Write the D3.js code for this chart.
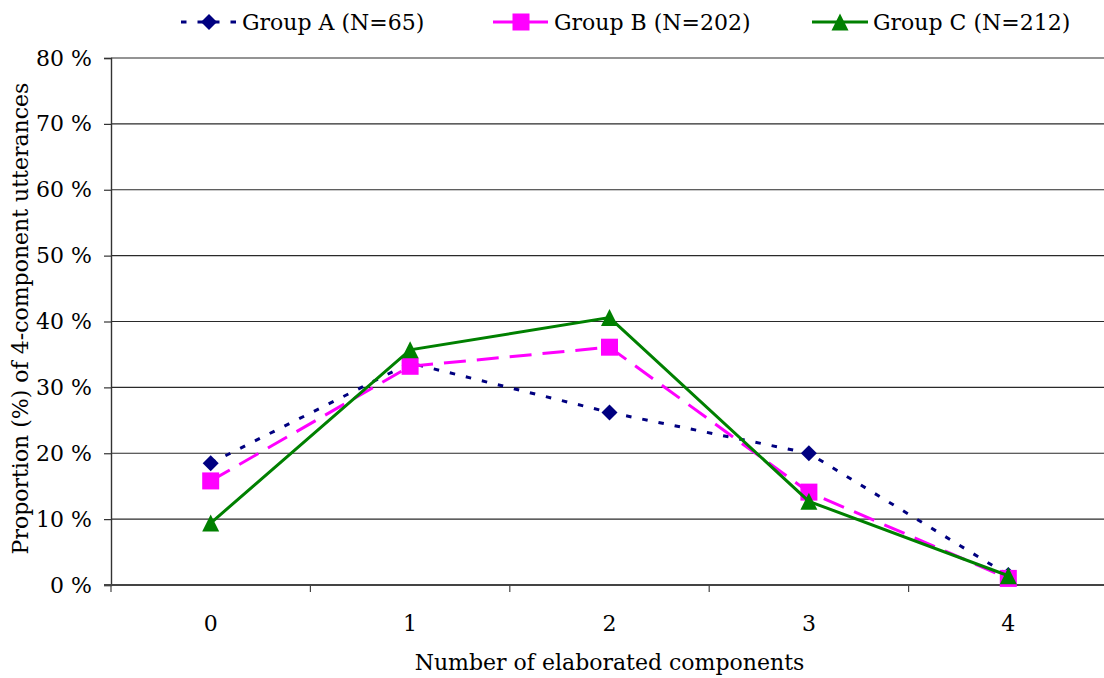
<!DOCTYPE html>
<html>
<head>
<meta charset="utf-8">
<script src="https://cdn.jsdelivr.net/npm/d3@7"></script>
<style>
  html, body { margin: 0; padding: 0; background: #fff; }
  svg text { font-family: "DejaVu Serif", "Liberation Serif", serif; fill: #000; }
</style>
</head>
<body>
<svg id="chart" width="1104" height="678"></svg>
<script>
// Number of elaborated components (x categories)
const categories = ["0", "1", "2", "3", "4"];

// Proportion (%) of 4-component utterances per group
const groupA = [18.5, 33.7, 26.2, 20.0, 1.5];
const groupB = [15.8, 33.2, 36.1, 14.1, 1.0];
const groupC = [9.4, 35.7, 40.6, 12.7, 1.4];

const seriesNames = ["Group A (N=65)", "Group B (N=202)", "Group C (N=212)"];
const yTicks = [0, 10, 20, 30, 40, 50, 60, 70, 80];

const series = [
  { name: seriesNames[0], values: groupA, color: "#000080", dash: "5.5,11", marker: "diamond" },
  { name: seriesNames[1], values: groupB, color: "#FF00FF", dash: "22,11", marker: "square" },
  { name: seriesNames[2], values: groupC, color: "#008000", dash: null, marker: "triangle" }
];

const svg = d3.select("#chart");
const fontSize = 22;

const plot = { left: 111, right: 1108, top: 58, bottom: 585 };

const x = d3.scaleBand().domain(categories).range([plot.left, plot.right]);
const y = d3.scaleLinear().domain([0, 80]).range([plot.bottom, plot.top]);
const cx = c => x(c) + x.bandwidth() / 2;

// horizontal gridlines
svg.append("g")
  .selectAll("line")
  .data(yTicks.filter(t => t > 0))
  .join("line")
  .attr("x1", plot.left).attr("x2", 1104)
  .attr("y1", d => y(d)).attr("y2", d => y(d))
  .attr("stroke", "#2a2a2a").attr("stroke-width", 1.2);

// y axis
const yAxis = svg.append("g")
  .attr("transform", `translate(${plot.left},0)`)
  .call(d3.axisLeft(y).tickValues(yTicks).tickSize(7).tickPadding(12)
    .tickFormat(d => d + " %"));
yAxis.select(".domain").attr("stroke", "#333").attr("stroke-width", 1.4);
yAxis.selectAll(".tick line").attr("stroke", "#333").attr("stroke-width", 1.2);
yAxis.selectAll("text").style("font-size", fontSize + "px")
  .style("font-family", "DejaVu Serif, serif").attr("fill", "#000");

// x axis: tick marks between categories, labels at category centres
const xAxisG = svg.append("g").attr("transform", `translate(0,${plot.bottom})`);
xAxisG.append("line")
  .attr("x1", plot.left - 7).attr("x2", 1104)
  .attr("y1", 0).attr("y2", 0)
  .attr("stroke", "#444").attr("stroke-width", 2);
xAxisG.selectAll("line.tk")
  .data(categories)
  .join("line")
  .attr("class", "tk")
  .attr("x1", d => x(d)).attr("x2", d => x(d))
  .attr("y1", 0).attr("y2", 7)
  .attr("stroke", "#444").attr("stroke-width", 1.2);
xAxisG.selectAll("text")
  .data(categories)
  .join("text")
  .attr("x", d => cx(d))
  .attr("y", 46)
  .attr("text-anchor", "middle")
  .style("font-size", fontSize + "px")
  .text(d => d);

// axis titles
svg.append("text")
  .attr("x", (plot.left + 1104) / 2 + 2)
  .attr("y", 670)
  .attr("text-anchor", "middle")
  .style("font-size", fontSize + "px")
  .text("Number of elaborated components");

svg.append("text")
  .attr("transform", `translate(28,${(plot.top + plot.bottom) / 2 - 3}) rotate(-90)`)
  .attr("text-anchor", "middle")
  .style("font-size", fontSize + "px")
  .text("Proportion (%) of 4-component utterances");

// marker shapes
function drawMarker(g, type, px, py, color) {
  if (type === "diamond") {
    g.append("path")
      .attr("d", `M${px},${py - 8}L${px + 8},${py}L${px},${py + 8}L${px - 8},${py}Z`)
      .attr("fill", color);
  } else if (type === "square") {
    g.append("rect")
      .attr("x", px - 8.5).attr("y", py - 8.5)
      .attr("width", 17).attr("height", 17)
      .attr("fill", color);
  } else {
    g.append("path")
      .attr("d", `M${px},${py - 8.5}L${px + 8.5},${py + 8.5}L${px - 8.5},${py + 8.5}Z`)
      .attr("fill", color);
  }
}

const line = d3.line().x((d, i) => cx(categories[i])).y(d => y(d));

series.forEach(s => {
  const g = svg.append("g");
  g.append("path")
    .datum(s.values)
    .attr("d", line)
    .attr("fill", "none")
    .attr("stroke", s.color)
    .attr("stroke-width", 3)
    .attr("stroke-dasharray", s.dash);
  s.values.forEach((v, i) => drawMarker(g, s.marker, cx(categories[i]), y(v), s.color));
});

// legend
const legendStarts = [181, 493, 812];
const legendY = 22;
series.forEach((s, i) => {
  const g = svg.append("g").attr("transform", `translate(${legendStarts[i]},${legendY})`);
  g.append("line")
    .attr("x1", 0).attr("x2", 56).attr("y1", 0).attr("y2", 0)
    .attr("stroke", s.color).attr("stroke-width", 3)
    .attr("stroke-dasharray", s.dash);
  drawMarker(g, s.marker, 28, 0, s.color);
  g.append("text")
    .attr("x", 61).attr("y", 0)
    .attr("dy", "0.35em")
    .style("font-size", fontSize + "px")
    .text(s.name);
});
</script>
</body>
</html>
